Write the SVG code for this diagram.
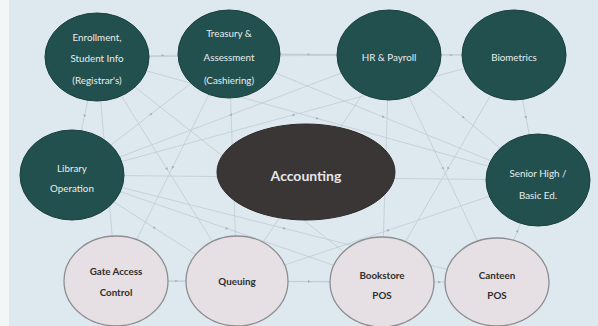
<svg xmlns="http://www.w3.org/2000/svg" width="598" height="326" viewBox="0 0 598 326">
<defs>
<marker id="ah" viewBox="0 0 6 6" refX="3" refY="3" markerWidth="4" markerHeight="4" orient="auto">
<path d="M0,0 L6,3 L0,6 z" fill="#a6b0b6"/>
</marker>
<style>
.bg{fill:#dee9ef}
.teal{fill:#21504f;stroke:#1a3f40;stroke-width:1}
.dark{fill:#3b3636;stroke:#2c2828;stroke-width:1}
.light{fill:#e6e0e4;stroke:#8c8e92;stroke-width:1.3}
.tw{font-family:Lato,"Open Sans",sans-serif;font-size:9.8px;fill:#e9eeec;text-anchor:middle}
.tb{font-family:Lato,"Open Sans",sans-serif;font-size:9.8px;font-weight:bold;fill:#2e2e2e;text-anchor:middle}
.ta{font-family:Lato,"Open Sans",sans-serif;font-size:14px;font-weight:bold;fill:#e6e6e6;text-anchor:middle}
#connectors path{fill:none;stroke:#bfc9cf;stroke-width:0.75;marker-mid:url(#ah)}
</style>
</defs>
<rect class="bg" x="0" y="0" width="598" height="326"/>
<rect x="0" y="0" width="9" height="326" fill="#f3f6f7"/>
<g id="connectors">
<path d="M97,57 L163,55.5 L229,54"/>
<path d="M229,54 L309,54.5 L389,55"/>
<path d="M389,55 L451.5,55 L514,55"/>
<path d="M97,57 L243,56 L389,55"/>
<path d="M97,57 L317.5,118.5 L538,180"/>
<path d="M229,54 L383.5,117 L538,180"/>
<path d="M229,54 L371.5,54.5 L514,55"/>
<path d="M97,57 L84.5,116 L72,175"/>
<path d="M97,57 L167,169 L237,281"/>
<path d="M97,57 L106.5,169 L116,281"/>
<path d="M229,54 L150.5,114.5 L72,175"/>
<path d="M229,54 L172.5,167.5 L116,281"/>
<path d="M229,54 L233,167.5 L237,281"/>
<path d="M72,175 L154.5,228 L237,281"/>
<path d="M72,175 L227,228.5 L382,282"/>
<path d="M72,175 L284.5,228.5 L497,282"/>
<path d="M72,175 L305,177.5 L538,180"/>
<path d="M116,281 L176.5,281 L237,281"/>
<path d="M116,281 L249,281.5 L382,282"/>
<path d="M237,281 L309.5,281.5 L382,282"/>
<path d="M382,282 L439.5,282 L497,282"/>
<path d="M497,282 L517.5,231 L538,180"/>
<path d="M514,55 L526,117.5 L538,180"/>
<path d="M389,55 L463.5,117.5 L538,180"/>
<path d="M389,55 L385.5,168.5 L382,282"/>
<path d="M514,55 L448,168.5 L382,282"/>
<path d="M389,55 L230.5,115 L72,175"/>
<path d="M514,55 L293,115 L72,175"/>
<path d="M538,180 L387.5,230.5 L237,281"/>
<path d="M389,55 L443,168.5 L497,282"/>
<path d="M389,55 L313,168 L237,281"/>
<path d="M97,57 L239.5,169.5 L382,282"/>
</g>
<g id="n-accounting"><ellipse class="dark" cx="306" cy="172" rx="89" ry="48"/><text class="ta" x="306" y="181">Accounting</text></g>
<g id="n-enrollment"><ellipse class="teal" cx="97" cy="57" rx="52" ry="44"/>
<text class="tw" x="97" y="41">Enrollment,</text><text class="tw" x="97" y="62">Student Info</text><text class="tw" x="97" y="84">(Registrar's)</text></g>
<g id="n-treasury"><ellipse class="teal" cx="229" cy="54" rx="51" ry="44"/>
<text class="tw" x="229" y="37">Treasury &amp;</text><text class="tw" x="229" y="61">Assessment</text><text class="tw" x="229" y="84">(Cashiering)</text></g>
<g id="n-hr"><ellipse class="teal" cx="389" cy="55" rx="52" ry="45"/><text class="tw" x="389" y="61">HR &amp; Payroll</text></g>
<g id="n-bio"><ellipse class="teal" cx="514" cy="55" rx="52" ry="45"/><text class="tw" x="514" y="61">Biometrics</text></g>
<g id="n-library"><ellipse class="teal" cx="72" cy="175" rx="52" ry="45"/>
<text class="tw" x="72" y="172">Library</text><text class="tw" x="72" y="192">Operation</text></g>
<g id="n-senior"><ellipse class="teal" cx="538" cy="180" rx="52" ry="46"/>
<text class="tw" x="538" y="177">Senior High /</text><text class="tw" x="538" y="199">Basic Ed.</text></g>
<g id="n-gate"><ellipse class="light" cx="116" cy="281" rx="52" ry="45"/>
<text class="tb" x="116" y="275">Gate Access</text><text class="tb" x="116" y="296">Control</text></g>
<g id="n-queuing"><ellipse class="light" cx="237" cy="281" rx="51" ry="45"/><text class="tb" x="237" y="285">Queuing</text></g>
<g id="n-bookstore"><ellipse class="light" cx="382" cy="282" rx="52" ry="45"/>
<text class="tb" x="382" y="279">Bookstore</text><text class="tb" x="382" y="299">POS</text></g>
<g id="n-canteen"><ellipse class="light" cx="497" cy="282" rx="52" ry="44"/>
<text class="tb" x="497" y="279">Canteen</text><text class="tb" x="497" y="299">POS</text></g>
</svg>
